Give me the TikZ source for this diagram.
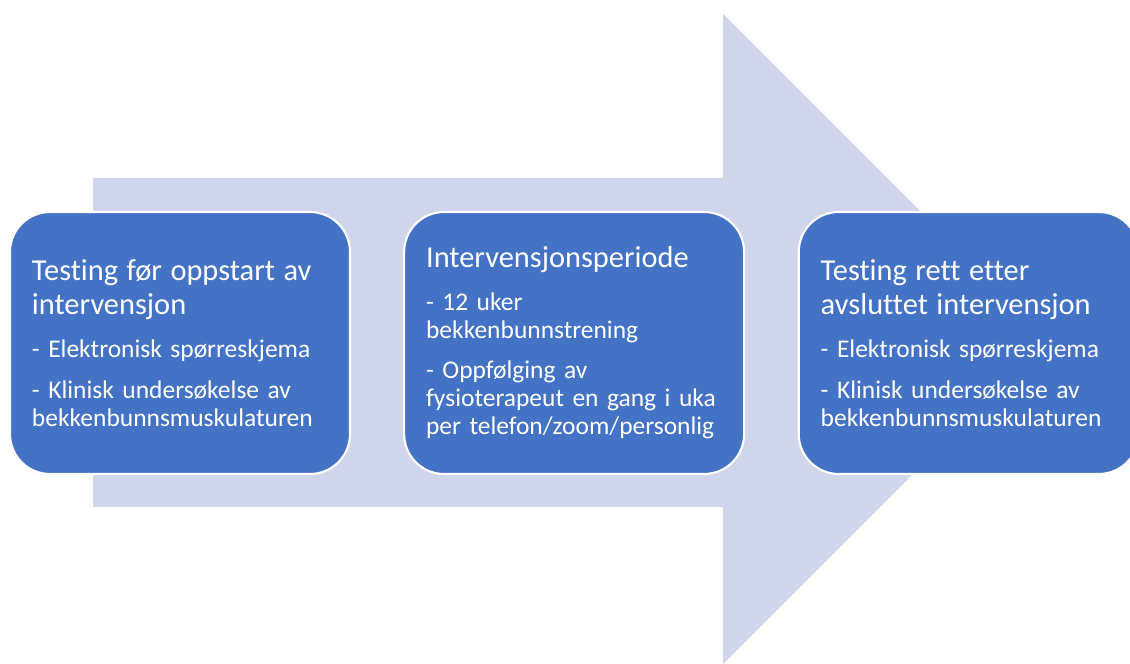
\documentclass[tikz,border=0pt]{standalone}
\usepackage{fontspec}
\setmainfont{Carlito}[Ligatures={NoCommon,NoContextual}]
\usetikzlibrary{positioning}

\definecolor{boxblue}{HTML}{4472C4}
\definecolor{arrowtint}{HTML}{CFD5EA}
\newcommand{\stagehead}{\fontsize{17.3pt}{19.3pt}\selectfont}
\newcommand{\stagebody}{\fontsize{14.5pt}{15.9pt}\selectfont}

\begin{document}
\begin{tikzpicture}[x=0.2mm,y=-0.2mm,
  stage/.style={draw=white,line width=1.2pt,fill=boxblue,rounded corners=8mm,
    minimum width=6.8cm,minimum height=5.24cm,inner xsep=4.4mm,text width=5.92cm,
    align=left,text=white,font=\stagebody}]
\useasboundingbox (0,0) rectangle (1130,664);

% big arrow behind the three stages
\fill[arrowtint] (93,178) -- (723,178) -- (723,14) -- (1048,339)
  -- (723,664) -- (723,507) -- (93,507) -- cycle;

\node[stage] (pre) at (180,343) {{\stagehead Testing før oppstart av\\[3.6pt] intervensjon}\\[8.5pt]
  - Elektronisk spørreskjema\\[7pt]
  - Klinisk undersøkelse av\\ bekkenbunnsmuskulaturen};

\node[stage,right=1.04cm of pre] (mid) {{\stagehead Intervensjonsperiode}\\[8.5pt]
  - 12 uker\\ bekkenbunnstrening\\[7pt]
  - Oppfølging av\\ fysioterapeut en gang i uka\\ per telefon/zoom/personlig};

\node[stage,right=1.05cm of mid] (post) {{\stagehead Testing rett etter\\[3.6pt] avsluttet intervensjon}\\[8.5pt]
  - Elektronisk spørreskjema\\[7pt]
  - Klinisk undersøkelse av\\ bekkenbunnsmuskulaturen};

\end{tikzpicture}
\end{document}
